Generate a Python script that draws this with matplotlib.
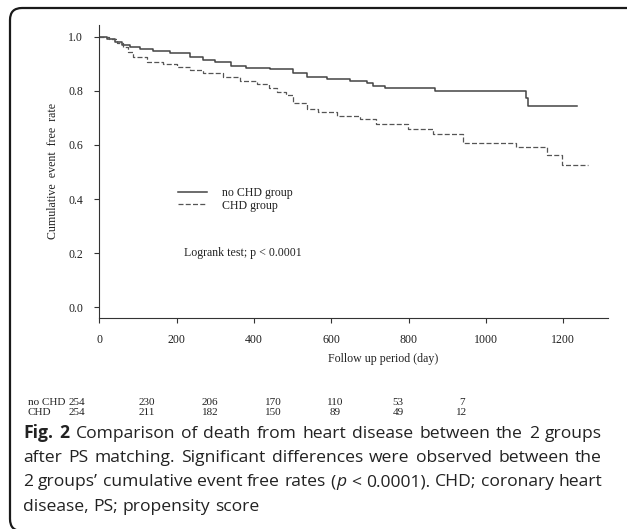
import numpy as np
import matplotlib
matplotlib.use("Agg")
import matplotlib.pyplot as plt
from matplotlib.patches import FancyBboxPatch
from matplotlib.transforms import IdentityTransform

# Kaplan-Meier steps (day, survival after the step)
nochd_t = [0, 20, 40, 60, 80, 105, 140, 183, 235, 268, 300, 340, 380, 442,
           500, 537, 589, 649, 692, 708, 739, 869, 1105, 1108, 1236]
nochd_s = [1.0, 0.992, 0.982, 0.970, 0.963, 0.955, 0.948, 0.939, 0.926, 0.915,
           0.905, 0.893, 0.885, 0.880, 0.866, 0.852, 0.845, 0.837, 0.830, 0.818,
           0.809, 0.800, 0.772, 0.744, 0.744]

chd_t = [0, 25, 45, 62, 75, 87, 123, 165, 200, 235, 268, 320, 364, 407, 440,
         459, 484, 502, 537, 566, 614, 674, 717, 799, 864, 942, 1077, 1159,
         1197, 1264]
chd_s = [1.0, 0.990, 0.975, 0.963, 0.945, 0.926, 0.908, 0.898, 0.889, 0.877,
         0.865, 0.850, 0.838, 0.826, 0.812, 0.797, 0.785, 0.754, 0.732, 0.720,
         0.707, 0.695, 0.677, 0.658, 0.640, 0.608, 0.592, 0.562, 0.526, 0.526]

xticks = [0, 200, 400, 600, 800, 1000, 1200]
yticks = [0.0, 0.2, 0.4, 0.6, 0.8, 1.0]

risk_labels = ["no CHD", "CHD"]
risk_nochd = [254, 230, 206, 170, 110, 53, 7]
risk_chd = [254, 211, 182, 150, 89, 49, 12]

caption = [
    "Fig. 2 Comparison of death from heart disease between the 2 groups",
    "after PS matching. Significant differences were observed between the",
    "2 groups\u2019 cumulative event free rates (p < 0.0001). CHD; coronary heart",
    "disease, PS; propensity score",
]

W, H = 627, 529
SERIF = "Liberation Serif"
SANS = "Open Sans"
INK = "#222222"


def fx(x):
    return x / W


def fy(y):
    return 1 - y / H


fig = plt.figure(figsize=(W / 100, H / 100), dpi=100)
fig.patch.set_facecolor("white")

# rounded frame around the whole panel (right and bottom sides fall off the image)
frame = FancyBboxPatch((10, -2), 640, 523, boxstyle="round,pad=0,rounding_size=12",
                       transform=IdentityTransform(), fill=False, ec="#1a1a1a", lw=1.6)
fig.patches.append(frame)

ax = fig.add_axes([fx(99.3), fy(317.7), (608.3 - 99.3) / W, (317.7 - 25) / H])
ax.step(nochd_t, nochd_s, where="post", color="#444444", lw=1.1, label="no CHD group")
ax.step(chd_t, chd_s, where="post", color="#555555", lw=0.9,
        linestyle=(0, (4, 1.8)), label="CHD group")

ax.set_xlim(0, 509 / 0.3865)
ax.set_ylim((307.3 - 317.7) / 270.6, (307.3 - 25) / 270.6)
ax.set_xticks(xticks)
ax.set_yticks(yticks)
ax.set_xticklabels([str(v) for v in xticks])
ax.set_yticklabels([f"{v:.1f}" for v in yticks])
for s in ["top", "right"]:
    ax.spines[s].set_visible(False)
for s in ["left", "bottom"]:
    ax.spines[s].set_color("#333333")
    ax.spines[s].set_linewidth(0.8)
ax.tick_params(direction="out", length=3.6, width=0.8, color="#333333",
               labelsize=8.6, labelcolor=INK)
ax.tick_params(axis="x", pad=8)
ax.tick_params(axis="y", pad=8)
for lab in ax.get_xticklabels() + ax.get_yticklabels():
    lab.set_fontfamily(SERIF)

fig.text(fx(53), fy(171), "Cumulative  event  free  rate", rotation=90, ha="center",
         va="center", family=SERIF, fontsize=8.6, color=INK)
fig.text(fx(383), fy(359), "Follow up period (day)", ha="center", va="center",
         family=SERIF, fontsize=8.6, color=INK)

leg = ax.legend(loc="upper left", bbox_to_anchor=(fx(178), fy(187)),
                bbox_transform=fig.transFigure, frameon=False, handlelength=2.45,
                handletextpad=1.25, labelspacing=0.05, borderpad=0, borderaxespad=0,
                prop={"family": SERIF, "size": 8.6})
for t in leg.get_texts():
    t.set_color(INK)

fig.text(fx(184), fy(253), "Logrank test; p < 0.0001", ha="left", va="center",
         family=SERIF, fontsize=8.6, color=INK)

# numbers at risk
col_x = [77, 147, 210, 273, 335, 398, 462]
for row_y, lab, vals in zip([402.5, 412.5], risk_labels, [risk_nochd, risk_chd]):
    fig.text(fx(28), fy(row_y), lab, ha="left", va="center", family=SERIF,
             fontsize=8, color=INK)
    for cx, v in zip(col_x, vals):
        fig.text(fx(cx), fy(row_y), str(v), ha="center", va="center",
                 family=SERIF, fontsize=8, color=INK)

# caption: justified lines, bold figure number, italic p
renderer = fig.canvas.get_renderer()
cap_size = 12.6
x_left, x_right = 23.5, 602
baselines = [437.5, 462, 486.5, 511]


def ink(s, **kw):
    t = fig.text(0, 0, s, fontsize=cap_size, family=SANS, **kw)
    w = t.get_window_extent(renderer).width
    t.remove()
    return w


space = ink("a a") - ink("aa")

for i, line in enumerate(caption):
    tokens = line.split(" ")
    bold = [i == 0 and k < 2 for k in range(len(tokens))]
    # natural left positions, measured on prefixes so spacing keeps side bearings
    pos, widths = [], []
    seg_start, offset = 0, 0.0
    for k, tok in enumerate(tokens):
        if k > 0 and bold[k] != bold[k - 1]:
            seg_start = k
            offset = pos[-1] + widths[-1] + space
        kw = {"weight": "bold"} if bold[k] else {}
        prefix = " ".join(tokens[seg_start:k + 1])
        w = ink(tok, **kw)
        pos.append(offset + ink(prefix, **kw) - w)
        widths.append(w)
    natural = pos[-1] + widths[-1]
    extra = 0.0
    if i < len(caption) - 1:
        extra = (x_right - x_left - natural) / (len(tokens) - 1)
    for k, tok in enumerate(tokens):
        x = x_left + pos[k] + k * extra
        kw = {"weight": "bold"} if bold[k] else {}
        if tok == "(p":
            fig.text(fx(x), fy(baselines[i]), "(", va="baseline", ha="left",
                     fontsize=cap_size, family=SANS, color=INK)
            fig.text(fx(x + ink("(") + 0.8), fy(baselines[i]), "p", va="baseline",
                     ha="left", fontsize=cap_size, family=SANS, color=INK, style="italic")
        else:
            fig.text(fx(x), fy(baselines[i]), tok, va="baseline", ha="left",
                     fontsize=cap_size, family=SANS, color=INK, **kw)

fig.savefig("out.png", dpi=100)
